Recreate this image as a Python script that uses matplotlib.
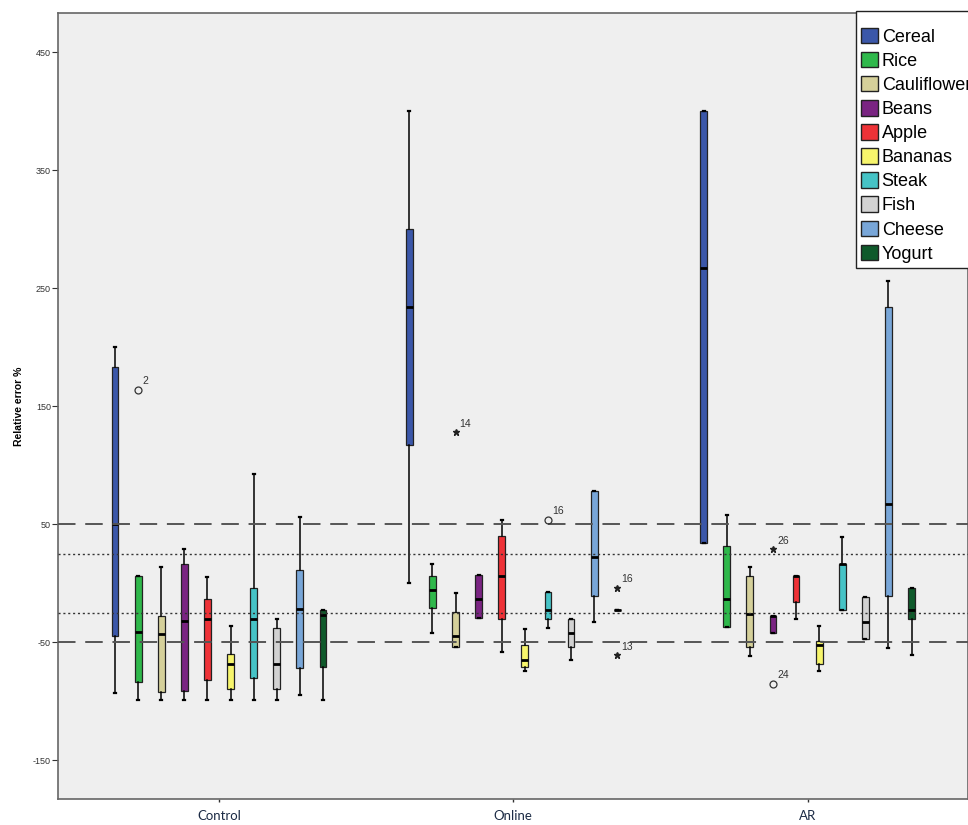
import matplotlib
matplotlib.use("Agg")
import matplotlib.pyplot as plt
from matplotlib.patches import Patch

plt.rcParams['font.family'] = ['Liberation Sans', 'DejaVu Sans']

groups = ["Control", "Online", "AR"]
foods = ["Cereal", "Rice", "Cauliflower", "Beans", "Apple",
         "Bananas", "Steak", "Fish", "Cheese", "Yogurt"]
colors = ["#3b57a9", "#2fb84b", "#d5d09a", "#7a2482", "#ee3237",
          "#f7f56c", "#46c3c6", "#d2d2d2", "#78a6d8", "#0f5a2b"]

# per food: [whisker high, q3, median, q1, whisker low]
control = [
    [200, 183, 50, -45, -93],
    [6, 6, -41, -84, -99],
    [14, -28, -43, -92, -99],
    [29, 16, -32, -91, -99],
    [5, -13, -30, -82, -99],
    [-36, -60, -68, -90, -99],
    [93, -4, -30, -80, -99],
    [-30, -38, -68, -90, -99],
    [56, 11, -22, -72, -95],
    [-23, -23, -27, -71, -99],
]
online = [
    [400, 300, 234, 117, 0],
    [16, 6, -6, -21, -42],
    [-8, -24, -45, -54, -54],
    [7, 7, -13, -29, -29],
    [54, 40, 6, -30, -58],
    [-39, -52, -65, -71, -74],
    [-7, -7, -23, -30, -38],
    [-30, -30, -42, -54, -65],
    [78, 78, 22, -11, -33],
    [-23, -23, -23, -23, -23],
]
ar = [
    [400, 400, 267, 34, 34],
    [58, 32, -13, -37, -37],
    [14, 6, -26, -54, -62],
    [-28, -28, -28, -42, -42],
    [6, 6, 6, -16, -30],
    [-36, -49, -52, -68, -74],
    [39, 16, 16, -23, -23],
    [-12, -12, -33, -47, -47],
    [256, 234, 67, -11, -55],
    [-4, -4, -23, -30, -61],
]
group_stats = [control, online, ar]

# outliers: (group, food, value, marker, case label)
outliers = [
    (0, 1, 164, "o", "2"),
    (1, 2, 128, "*", "14"),
    (1, 6, 54, "o", "16"),
    (1, 9, -4, "*", "16"),
    (1, 9, -61, "*", "13"),
    (2, 3, 29, "*", "26"),
    (2, 3, -85, "o", "24"),
]

y_ticks = [-150, -50, 50, 150, 250, 350, 450]
ref_dashed = [50, -50]
ref_dotted = [25, -25]

fig = plt.figure(figsize=(9.68, 8.25), dpi=100)
ax = fig.add_axes([58 / 968, 26 / 825, 1 - 58 / 968, 786 / 825])
ax.set_facecolor("#efefef")

step = 0.0785
width = 0.023

def food_pos(g, i):
    return g + 1 + (i - 4.5) * step

for g, stats in enumerate(group_stats):
    bstats = []
    for s in stats:
        hi, q3, med, q1, lo = s
        bstats.append(dict(whishi=hi, q3=q3, med=med, q1=q1, whislo=lo, fliers=[]))
    pos = [food_pos(g, i) for i in range(len(foods))]
    res = ax.bxp(bstats, positions=pos, widths=width, patch_artist=True,
                 showfliers=False, capwidths=0.007,
                 boxprops=dict(edgecolor="#222222", linewidth=0.9),
                 medianprops=dict(color="black", linewidth=2),
                 whiskerprops=dict(color="black", linewidth=1.1),
                 capprops=dict(color="black", linewidth=1.6))
    for patch, c in zip(res["boxes"], colors):
        patch.set_facecolor(c)
        patch.set_zorder(2)

for g, i, v, m, lab in outliers:
    x = food_pos(g, i)
    if m == "o":
        ax.plot(x, v, marker="o", mfc="none", mec="#333333", ms=5, mew=0.9, zorder=4)
    else:
        ax.plot(x, v, marker="*", color="#222222", ms=5, zorder=4)
    ax.annotate(lab, (x, v), xytext=(3, 4), textcoords="offset points",
                fontsize=7.5, color="#333333", zorder=4)

for yv in ref_dashed:
    ax.axhline(yv, color="#555555", lw=1.4, dashes=(9, 5), zorder=3)
for yv in ref_dotted:
    ax.axhline(yv, color="#333333", lw=1.0, dashes=(1.5, 2), zorder=3)

ax.set_xlim(0.453, 3.545)
ax.set_ylim(-182.8, 483.3)
ax.set_yticks(y_ticks)
ax.set_yticklabels([str(t) for t in y_ticks], fontsize=6.5, color="#333333")
ax.tick_params(axis="y", length=4, width=0.8, color="#333333", pad=1)
ax.set_xticks([1, 2, 3])
ax.set_xticklabels(groups, fontsize=9.5, color="#1c2b45", family="Lato")
ax.tick_params(axis="x", length=2, width=1, color="#333333", pad=6)
ax.set_ylabel("Relative error %", fontsize=7.5, fontweight="bold")
ax.yaxis.set_label_coords(-0.037, 0.5)

for sp in ax.spines.values():
    sp.set_color("#666666")
    sp.set_linewidth(1.2)

handles = [Patch(facecolor=c, edgecolor="#222222", linewidth=1) for c in colors]
leg = fig.legend(handles, foods, loc="upper left",
                 bbox_to_anchor=(855.5 / 968, 1 - 11 / 825),
                 fontsize=13, frameon=True, fancybox=False, title=" ",
                 title_fontsize=4, handlelength=0.95, handleheight=0.95,
                 handletextpad=0.2, labelspacing=0.34, borderpad=0.3,
                 borderaxespad=0)
leg.get_frame().set_edgecolor("#222222")
leg.get_frame().set_linewidth(1)
leg.get_frame().set_facecolor("white")
leg.get_frame().set_alpha(1)

fig.savefig("out.png", dpi=100)
